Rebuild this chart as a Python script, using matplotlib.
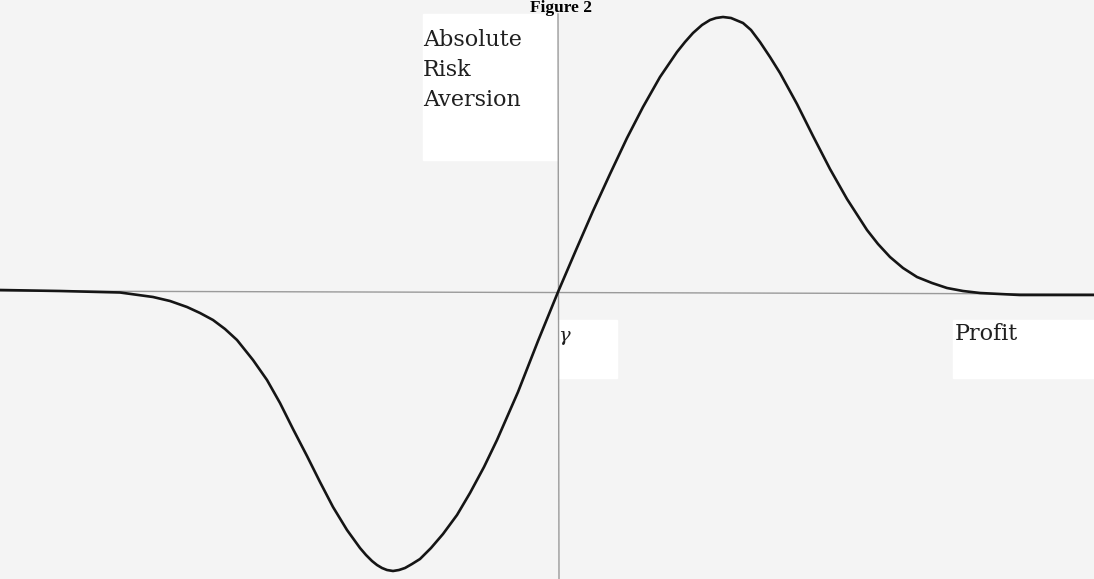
import matplotlib
matplotlib.use("Agg")
import matplotlib.pyplot as plt
from matplotlib.patches import Rectangle

# curve (pixel positions, y grows downward)
profit_x = [0, 60, 120, 153, 170, 187, 200, 213, 225, 237, 253, 267, 280, 293,
            307, 320, 333, 347, 360, 366, 372, 377, 382, 387, 393, 399, 405,
            412, 420, 431, 443, 457, 470, 484, 497, 518, 538, 558,
            576, 593, 610, 627, 643, 660, 677, 685, 693, 702, 710, 716, 723,
            731, 743, 751, 760, 770, 780, 797, 813, 830, 847, 867, 878, 890,
            903, 917, 932, 947, 963, 980, 1020, 1094]
ara_y = [290, 291, 292.5, 297, 301, 307, 313, 320, 329, 340, 360, 380, 403, 429,
         456, 482, 507, 530, 548, 555, 561, 565, 568, 570, 571, 570, 568,
         564, 559, 548, 534, 515, 493, 467, 440, 392, 341, 292,
         250, 211, 174, 138, 107, 77, 52, 42, 33, 25, 20, 18, 17,
         18, 23, 30, 42, 57, 73, 104, 136, 169, 199, 230, 244, 257,
         268, 277, 283, 288, 291, 293, 295, 295]

# axes lines
h_axis_x = [0, 1094]
h_axis_y = [291, 294]
v_axis_x = [558, 559]
v_axis_y = [14, 579]

title = "Figure 2"
y_label = ["Absolute", "Risk", "Aversion"]
x_label = "Profit"
origin_label = "\u03b3"

fig = plt.figure(figsize=(10.94, 5.79), dpi=100)
fig.patch.set_facecolor("#f4f4f4")
ax = fig.add_axes([0, 0, 1, 1])
ax.set_facecolor("#f4f4f4")
ax.set_xlim(0, 1094)
ax.set_ylim(579, 0)
ax.axis("off")

# white boxes behind the labels
ax.add_patch(Rectangle((423, 14), 134, 146, color="white", zorder=1))
ax.add_patch(Rectangle((953, 320), 141, 58, color="white", zorder=1))
ax.add_patch(Rectangle((558, 320), 59, 58, color="white", zorder=1))

ax.plot(h_axis_x, h_axis_y, color="#9a9a9a", lw=1.0, zorder=2)
ax.plot(v_axis_x, v_axis_y, color="#9a9a9a", lw=1.0, zorder=2)

ax.plot(profit_x, ara_y, color="#151515", lw=1.9, zorder=3,
        solid_capstyle="round", solid_joinstyle="round")

ax.text(561, 0, title, ha="center", va="top", fontsize=12.5,
        fontweight="bold", family="Liberation Serif", zorder=4)

for i, line in enumerate(y_label):
    ax.text(423, 40 + 30 * i, line, ha="left", va="center", fontsize=16,
            family="DejaVu Serif", color="#202020", zorder=4)

ax.text(955, 334, x_label, ha="left", va="center", fontsize=16,
        family="DejaVu Serif", color="#202020", zorder=4)
ax.text(558, 336, origin_label, ha="left", va="center", fontsize=14,
        style="italic", family="DejaVu Serif", color="#202020", zorder=4)

fig.savefig("out.png", dpi=100, facecolor=fig.get_facecolor())
